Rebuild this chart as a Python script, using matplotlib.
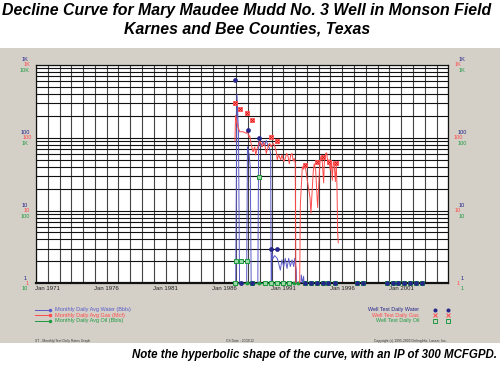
import numpy as np
import matplotlib
matplotlib.use("Agg")
import matplotlib.pyplot as plt
from matplotlib.patches import Rectangle
from matplotlib.lines import Line2D

plt.rcParams["font.family"] = ["Liberation Sans", "DejaVu Sans"]

# %% data (dates as decimal years, rates per day; 0 = no production)
water_dates = [1986.94, 1987.06, 1987.19, 1987.29, 1987.87, 1987.95, 1988.08, 1988.19,
               1988.28, 1988.82, 1988.90, 1989.02, 1989.13, 1989.27, 1989.41, 1989.55,
               1989.69, 1989.84, 1989.92, 1989.97, 1990.02, 1990.12, 1990.26, 1990.48,
               1990.60, 1990.74, 1990.88, 1991.03, 1991.16, 1991.31, 1991.45, 1991.59,
               1991.73, 1991.88, 1991.96, 1992.10, 1992.16, 1992.41, 1992.52, 1992.64,
               1992.72, 1992.84]
water_vals = [0, 395, 120, 0, 0, 75, 60, 40,
              0, 0, 88, 80, 75, 90, 78, 92,
              78, 71, 60, 0, 2.6, 2.2, 2.4, 2.2,
              1.88, 1.52, 2.1, 1.7, 2.2, 1.6, 2.2, 1.7,
              2.1, 1.7, 2.2, 1.5, 0, 0, 1.3, 1.0,
              1.25, 0]

gas_dates = [1986.89, 1986.94, 1987.06, 1987.15, 1987.29, 1987.43, 1987.57, 1987.71,
             1987.85, 1987.94, 1988.06, 1988.14, 1988.28, 1988.42, 1988.57, 1988.65,
             1988.76, 1988.90, 1988.99, 1989.13, 1989.21, 1989.35, 1989.46, 1989.55,
             1989.63, 1989.75, 1989.84, 1989.97, 1990.12, 1990.26, 1990.40, 1990.48,
             1990.60, 1990.77, 1990.88, 1991.03, 1991.16, 1991.28, 1991.39, 1991.50,
             1991.62, 1991.73, 1991.84, 1991.93, 1992.01, 1992.07, 1992.37, 1992.44,
             1992.61, 1992.72, 1992.84, 1992.95, 1993.26, 1993.34, 1993.46, 1993.54,
             1993.62, 1993.74, 1993.83, 1993.91, 1994.02, 1994.11, 1994.19, 1994.30,
             1994.42, 1994.47, 1994.59, 1994.68, 1994.76, 1994.87, 1994.98, 1995.07,
             1995.15, 1995.24, 1995.32, 1995.41, 1995.49, 1995.55, 1995.61, 1995.66]
gas_vals = [90, 204, 160, 141, 121, 121, 121, 118,
            115, 125, 103, 107, 80, 64, 75, 58,
            70, 82, 90, 82, 75, 86, 75, 61,
            68, 80, 84, 75, 84, 78, 64, 50,
            58, 50, 58, 47, 52, 61, 56, 44,
            58, 61, 48, 52, 45, 0, 0, 12,
            40, 37, 42, 32, 15, 9.2, 21, 35,
            44, 36, 19, 11, 26, 47, 56, 47,
            24, 44, 61, 62, 47, 50, 36, 49,
            26, 47, 42, 25, 45, 21, 4.9, 3.6]

oil_dates = [1986.95, 1987.4, 1987.9, 1988.4, 1988.9, 1989.4, 1989.9, 1990.4,
             1990.9, 1991.4, 1991.9, 1992.2]
oil_vals = [0, 0, 0, 0, 0, 0, 0, 0, 0, 0, 0, 0]

gas_test_dates = [1986.92, 1987.34, 1987.94, 1988.34, 1989.92, 1990.43,
                  1992.84, 1993.83, 1994.34, 1994.90, 1995.44]
gas_test_vals = [297, 245, 220, 176, 101, 90, 42, 47, 55, 47, 45]

water_test_dates = [1986.92, 1987.38, 1988.00, 1988.34, 1988.90, 1989.92, 1990.43,
                    1992.84, 1993.34, 1993.83, 1994.34, 1994.81, 1995.38, 1997.22,
                    1997.73, 1999.77, 2000.28, 2000.76, 2001.26, 2001.75, 2002.23,
                    2002.74]
water_test_vals = [620, 0, 128, 0, 100, 3.0, 2.96,
                   0, 0, 0, 0, 0, 0, 0,
                   0, 0, 0, 0, 0, 0, 0,
                   0]

oil_test_dates = [1986.90, 1987.00, 1987.38, 1987.91, 1988.34, 1988.90, 1989.40,
                  1989.92, 1990.43, 1990.95, 1991.45, 1992.84, 1993.34, 1993.83,
                  1994.34, 1994.81, 1995.38, 1997.22, 1997.73, 1999.77, 2000.28,
                  2000.76, 2001.26, 2001.75, 2002.23, 2002.74]
oil_test_vals = [0, 20, 20, 20, 0, 290, 0,
                 0, 0, 0, 0, 0, 0, 0,
                 0, 0, 0, 0, 0, 0, 0,
                 0, 0, 0, 0, 0]

year_labels = ["Jan 1971", "Jan 1976", "Jan 1981", "Jan 1986", "Jan 1991", "Jan 1996", "Jan 2001"]
label_years = [1971, 1976, 1981, 1986, 1991, 1996, 2001]
decades = [1, 10, 100, 1000]
water_gas_labels = ["1", "10", "100", "1K"]
oil_left_labels = ["10", "100", "1K", "10K"]
oil_right_labels = ["1", "10", "100", "1K"]

# %% colors
BLUE = "#5a5ac8"
BLUE_DARK = "#24248a"
RED = "#ff4a4a"
GREEN = "#1e9a40"
PANEL = "#d4d0c8"

W, H = 500, 367
fig = plt.figure(figsize=(W / 100, H / 100), dpi=100, facecolor="white")


def fx(px):
    return px / W


def fy(py):
    return 1 - py / H


def below_axis(vals):
    # zero rates drop off the bottom of the log axis
    v = np.array(vals, dtype=float)
    return np.where(v > 0, v, 0.5)


# gray panel behind the chart
fig.patches.append(Rectangle((0, fy(343)), 1, (343 - 48) / H, transform=fig.transFigure,
                             facecolor=PANEL, edgecolor="none", zorder=-5))

ax = fig.add_axes([fx(36), fy(283.3), fx(448.3 - 36), (283.3 - 65) / H])
ax.set_zorder(2)
ax.set_facecolor("white")
ax.set_yscale("log")
ax.set_xlim(1970, 2005)
ax.set_ylim(1, 1000)

# grid: yearly verticals, log horizontals
ax.set_xticks(np.arange(1970, 2006, 1))
ax.set_xticklabels([])
ax.tick_params(axis="both", which="both", length=0, labelleft=False)
ax.grid(True, axis="x", which="major", color="#444444", linewidth=0.8)
ax.grid(True, axis="y", which="both", color="#111111", linewidth=0.8)
ax.set_axisbelow(True)
for s in ax.spines.values():
    s.set_color("#111111")
    s.set_linewidth(0.9)
ax.spines["bottom"].set_linewidth(1.6)

# x labels
for yr, lab in zip(label_years, year_labels):
    ax.text(yr, 0.93, lab, ha="center", va="top", fontsize=4.3, color="#222222")

# monthly lines (oil shown on the x10 oil scale)
ax.plot(water_dates, below_axis(water_vals), color=BLUE, linewidth=0.7, zorder=3)
ax.plot(gas_dates, below_axis(gas_vals), color=RED, linewidth=0.7, zorder=4)
oil_plot = np.maximum(np.array(oil_vals) / 10, 1)
ax.plot(oil_dates, oil_plot, color=GREEN, linewidth=0.7, marker="o", markersize=1.8,
        zorder=3, clip_on=False)

# well tests
ot = np.maximum(np.array(oil_test_vals) / 10, 1)
ax.scatter(oil_test_dates, ot, marker="s", s=9, facecolor="#9fd8a8", edgecolor=GREEN,
           linewidth=0.7, zorder=5, clip_on=False)
wt = np.maximum(np.array(water_test_vals), 1)
ax.scatter(water_test_dates, wt, marker="o", s=8, facecolor=BLUE_DARK, edgecolor=BLUE_DARK,
           linewidth=0.5, zorder=6, clip_on=False)
ax.scatter(gas_test_dates, gas_test_vals, marker="s", s=10, facecolor="#ffb0b0",
           edgecolor=RED, linewidth=0.6, zorder=6)
ax.scatter(gas_test_dates, gas_test_vals, marker="x", s=5, color="#e00000",
           linewidth=0.6, zorder=7)

# colored y labels on both sides
for i, d in enumerate(decades):
    yp = 283.3 - i * 72.77
    for side_x, red_x in ((25, 27), (462, 458)):
        fig.text(fx(side_x), fy(yp - 5.3), water_gas_labels[i], color=BLUE_DARK,
                 fontsize=4, ha="center", va="center")
        fig.text(fx(red_x), fy(yp), water_gas_labels[i], color=RED,
                 fontsize=4, ha="center", va="center")
    fig.text(fx(25), fy(yp + 5.5), oil_left_labels[i], color=GREEN,
             fontsize=4, ha="center", va="center")
    fig.text(fx(462), fy(yp + 5.5), oil_right_labels[i], color=GREEN,
             fontsize=4, ha="center", va="center")

# legend, left (monthly lines)
leg_left = [("Monthly Daily Avg Water (Bbls)", BLUE), ("Monthly Daily Avg Gas (Mcf)", RED),
            ("Monthly Daily Avg Oil (Bbls)", GREEN)]
for k, (txt, c) in enumerate(leg_left):
    yy = fy(310 + k * 5.3)
    fig.add_artist(Line2D([fx(35), fx(50)], [yy, yy], color=c, linewidth=0.7,
                          transform=fig.transFigure))
    fig.add_artist(Line2D([fx(50)], [yy], color=c, marker="o", markersize=1.5,
                          transform=fig.transFigure))
    fig.text(fx(55), yy, txt, color=c, fontsize=4.0, va="center", ha="left")

# legend, right (well tests)
leg_right = [("Well Test Daily Water", BLUE_DARK, "o"), ("Well Test Daily Gas", RED, "x"),
             ("Well Test Daily Oil", GREEN, "s")]
for k, (txt, c, m) in enumerate(leg_right):
    yy = fy(310 + k * 5.3)
    fig.text(fx(419), yy, txt, color=c, fontsize=3.9, va="center", ha="right")
    for mx in (434.5, 448):
        fig.add_artist(Line2D([fx(mx)], [yy], color=c, marker=m, markersize=2.2,
                              markerfacecolor="none" if m == "s" else c,
                              markeredgewidth=0.7, transform=fig.transFigure))

# footer
fig.text(fx(35), fy(341), "XT - Monthly/Test Daily Rates Graph", fontsize=2.4,
         color="#333333", ha="left", va="center")
fig.text(fx(240), fy(341), "CS Date : 2002/12", fontsize=2.4, color="#333333",
         ha="center", va="center")
fig.text(fx(447), fy(341), "Copyright (c) 1995-2003 DrillingInfo, Lasser, Inc.",
         fontsize=2.4, color="#333333", ha="right", va="center")

# titles
fig.text(fx(247), fy(10.5), "Decline Curve for Mary Maudee Mudd No. 3 Well in Monson Field",
         fontsize=11.4, fontweight="bold", fontstyle="italic", ha="center", va="center")
fig.text(fx(247), fy(28.5), "Karnes and Bee Counties, Texas",
         fontsize=11.4, fontweight="bold", fontstyle="italic", ha="center", va="center")
fig.text(fx(497), fy(355), "Note the hyperbolic shape of the curve, with an IP of 300 MCFGPD.",
         fontsize=8.3, fontweight="bold", fontstyle="italic", ha="right", va="center")

fig.savefig("out.png", dpi=100, facecolor="white")
